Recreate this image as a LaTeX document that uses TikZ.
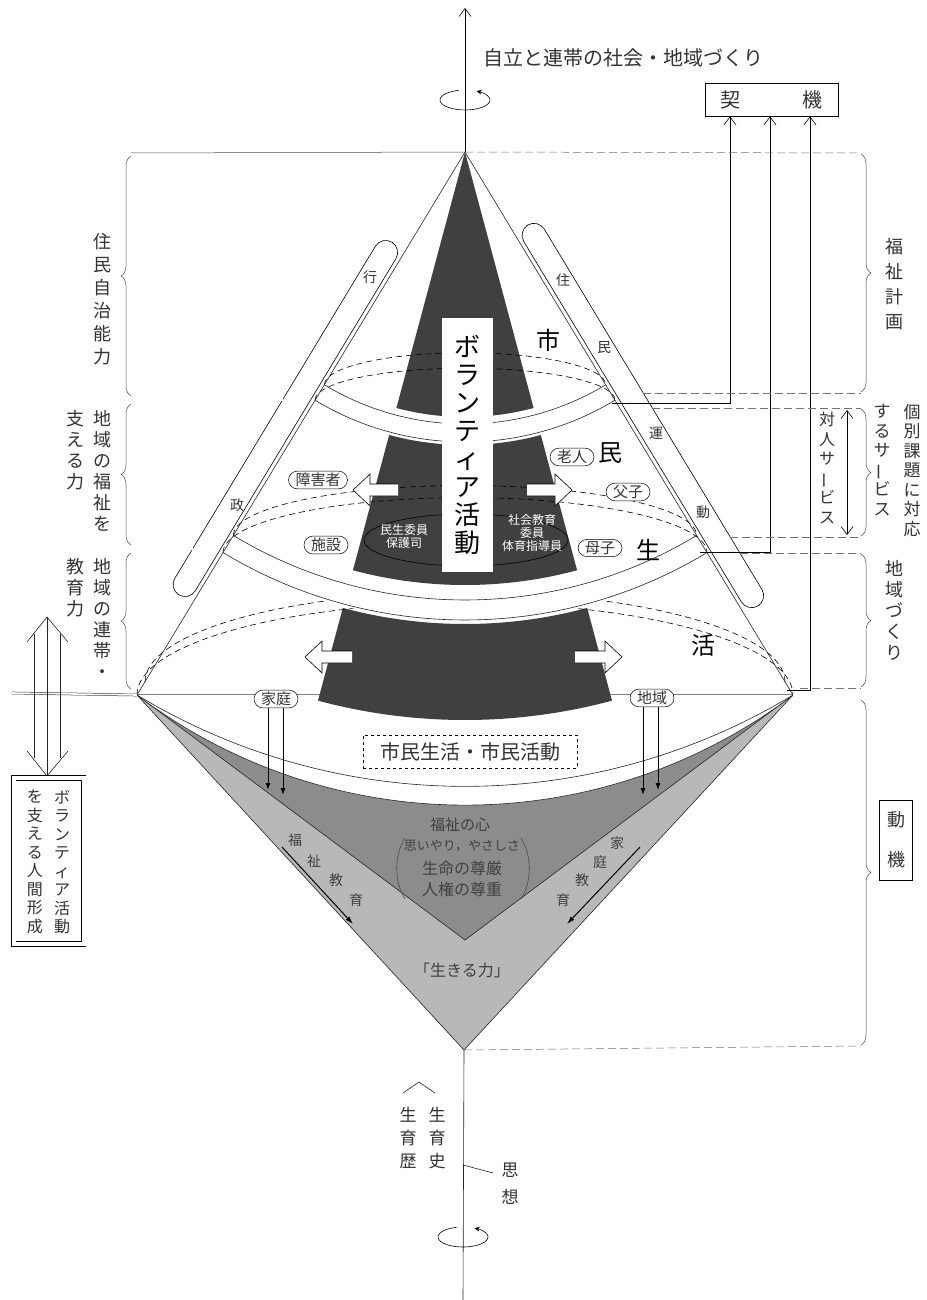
\documentclass[tikz,border=0pt]{standalone}
\usepackage{fontspec}
\usepackage{graphicx}
\setmainfont{Noto Sans CJK JP}
\usetikzlibrary{arrows.meta, decorations.pathreplacing}

\newcommand{\vbar}{\rotatebox[origin=c]{90}{ー}}

\begin{document}
\begin{tikzpicture}[x=1pt, y=-1pt,
    every node/.style={inner sep=0pt, text=black!80, font=\fontsize{17}{20}\selectfont},
    thinline/.style={line width=0.6pt, draw=black!85},
    rail/.style={double=white, double distance=1.6pt, line width=0.5pt, draw=black!80},
    hidden/.style={dash pattern=on 6pt off 4pt, line width=0.6pt},
    guide/.style={dash pattern=on 8pt off 4pt, line width=0.5pt, draw=black!55},
    wedge/.style={fill=black!75},
    hollow/.style={draw, fill=white, line width=0.6pt},
    tag/.style={draw, fill=white, rounded corners=9pt, inner xsep=7pt, inner ysep=2pt, line width=0.5pt, font=\fontsize{15}{15}\selectfont},
    vtxt/.style={align=center, anchor=north, font=\fontsize{18}{23}\selectfont},
    bracel/.style={decorate, decoration={brace, amplitude=10pt}, line width=0.5pt, draw=black!70},
    uparrow/.style={-{Straight Barb[length=8pt, width=12pt]}, line width=0.6pt},
    downarrow/.style={-{Latex[length=7pt, width=5pt]}, line width=1pt},
    big/.style={font=\fontsize{24}{24}\selectfont, text=black},
    small/.style={font=\fontsize{14}{14}\selectfont}
]
\fill[white] (0,0) rectangle (926,1300);
\useasboundingbox (0,0) rectangle (926,1300);

% key points
\coordinate (apex) at (465,152);
\coordinate (lc) at (137,695);
\coordinate (rc) at (793,695);
\coordinate (vtip) at (464,1050);
\coordinate (vmid) at (465,940);

% inverted triangle
\filldraw[fill=black!28, thinline] (lc) -- (vtip) -- (rc) -- cycle;
\filldraw[fill=black!45, thinline] (lc) -- (vmid) -- (rc) -- cycle;
\fill[white] (lc) arc[start angle=127.1, end angle=52.9, radius=544] -- cycle;
\draw[thinline] (lc) arc[start angle=127.1, end angle=52.9, radius=544];

% dark wedge
\begin{scope}[shift={(apex)}]
    \fill[wedge] (0,0) -- (105:265) arc[start angle=105, end angle=75, radius=265] -- cycle;
    \fill[wedge] (105:293) arc[start angle=105, end angle=75, radius=293] -- (75:433) arc[start angle=75, end angle=105, radius=433] -- cycle;
    \fill[wedge] (105:472) arc[start angle=105, end angle=75, radius=472] -- (75:568) arc[start angle=75, end angle=105, radius=568] -- cycle;
\end{scope}

% hidden back rims
\draw[hidden] (324.4,384.8) arc[start angle=180, end angle=360, x radius=140.6, y radius=32];
\draw[hidden] (315,400.2) arc[start angle=180, end angle=360, x radius=150, y radius=32];
\draw[hidden] (233.4,535.5) arc[start angle=180, end angle=360, x radius=231.6, y radius=50];
\draw[hidden] (223,552.6) arc[start angle=180, end angle=360, x radius=242, y radius=55];
\begin{scope}[even odd rule]
    \clip (0,0) rectangle (926,1300) (apex) circle[radius=470];
    \draw[hidden] (145,682) arc[start angle=180, end angle=360, x radius=320, y radius=90];
    \draw[hidden] (lc) arc[start angle=180, end angle=360, x radius=328, y radius=92];
\end{scope}

% front rims
\begin{scope}[shift={(apex)}]
    \foreach \r in {272, 290, 448, 468, 634.4}
        \draw[thinline] (121.13:\r) arc[start angle=121.13, end angle=58.87, radius=\r];
\end{scope}

% committee ring and centre column
\draw[line width=0.6pt] (466,540) ellipse[x radius=102, y radius=26];
\node[fill=white, anchor=north, minimum width=51pt, minimum height=254pt, align=center,
      font=\fontsize{26}{28}\selectfont, text=black] (volbox) at (467,318)
      {ボ\\ラ\\ン\\テ\\ィ\\ア\\活\\動};
\node[text=white, align=center, font=\fontsize{12}{13}\selectfont] (minsei) at (404,536) {民生委員\\保護司};
\node[text=white, align=center, font=\fontsize{12}{13}\selectfont] (shakai) at (532,533) {社会教育\\委員\\体育指導員};

% hollow arrows
\draw[hollow] (398,484) -- (370,484) -- (370,474) -- (353,490) -- (370,506) -- (370,496) -- (398,496);
\draw[hollow] (527,484) -- (555,484) -- (555,474) -- (572,490) -- (555,506) -- (555,496) -- (527,496);
\draw[hollow] (352,651) -- (322,651) -- (322,641) -- (305,657) -- (322,673) -- (322,663) -- (352,663);
\draw[hollow] (575,651) -- (605,651) -- (605,641) -- (622,657) -- (605,673) -- (605,663) -- (575,663);

% cone
\draw[thinline] (lc) -- (apex) -- (rc);

% side rails (administration / citizens' movement)
\begin{scope}[shift={(apex)}, rotate=-31.13]
    \draw[fill=white, line width=0.6pt, rounded corners=12pt] (-28,115) rectangle (-4,527);
\end{scope}
\begin{scope}[shift={(apex)}, rotate=31.13]
    \draw[fill=white, line width=0.6pt, rounded corners=12pt] (4,95) rectangle (28,540);
\end{scope}
\node[small] (gyo) at (370,277) {行};
\node[small] (sei) at (237,505) {政};
\node[small] (ju) at (563,280) {住};
\node[small] (min) at (604,348) {民};
\node[small] (un) at (656,433) {運};
\node[small] (do) at (703,512) {動};

% big characters
\node[big] (shi) at (548,340) {市};
\node[big] (min2) at (610,453) {民};
\node[big] (sei2) at (648,550) {生};
\node[big] (katsu) at (703,645) {活};

% tags
\node[tag] (shogai) at (318,480) {障害者};
\node[tag] (shisetsu) at (326,545) {施設};
\node[tag] (rojin) at (572,457) {老人};
\node[tag] (fushi) at (628,492) {父子};
\node[tag] (boshi) at (600,548) {母子};
\node[tag] (katei) at (276,699) {家庭};
\node[tag] (chiiki) at (652,698) {地域};

\coordinate (kA) at (268,790);
\coordinate (kB) at (283,795);
\coordinate (cA) at (643,795);
\coordinate (cB) at (658,790);
\draw[downarrow] (katei.south -| kA) -- (kA);
\draw[downarrow] (katei.south -| kB) -- (kB);
\draw[downarrow] (chiiki.south -| cA) -- (cA);
\draw[downarrow] (chiiki.south -| cB) -- (cB);

\node[draw, dashed, line width=0.6pt, minimum width=214pt, minimum height=33pt,
      font=\fontsize{20}{20}\selectfont] (shimin) at (470,751.5) {市民生活・市民活動};

% heart of welfare
\node[font=\fontsize{15}{15}\selectfont, text=black!75] (kokoro) at (460,825) {福祉の心};
\node[font=\fontsize{13}{13}\selectfont, text=black!75] (omoi) at (462,846) {思いやり，やさしさ};
\node[font=\fontsize{16}{16}\selectfont, text=black!75] (songen) at (462,868) {生命の尊厳};
\node[font=\fontsize{16}{16}\selectfont, text=black!75] (jinken) at (462,889) {人権の尊重};
\draw[line width=0.6pt, black!70] (405,838) .. controls (394,855) and (394,882) .. (405,899);
\draw[line width=0.6pt, black!70] (521,838) .. controls (532,855) and (532,882) .. (521,899);

\node[small, text=black!75] (fk1) at (295,840) {福};
\node[small, text=black!75] (fk2) at (314,861) {祉};
\node[small, text=black!75] (fk3) at (336,880) {教};
\node[small, text=black!75] (fk4) at (356,900) {育};
\node[small, text=black!75] (kk1) at (617,843) {家};
\node[small, text=black!75] (kk2) at (600,862) {庭};
\node[small, text=black!75] (kk3) at (582,880) {教};
\node[small, text=black!75] (kk4) at (563,900) {育};
\draw[-{Latex[length=8pt, width=5pt]}, line width=1pt] (282,847) -- (353,924);
\draw[-{Latex[length=8pt, width=5pt]}, line width=1pt] (640,847) -- (567,924);

\node[font=\fontsize{16}{16}\selectfont, text=black!75] (ikiru) at (462,970) {「生きる力」};

% axis
\draw[uparrow] (apex) -- (465,8);
\draw[thinline] (vtip) -- (463,1300);
\draw[-{Stealth[length=5pt, width=5pt]}, line width=0.6pt] (465,100) ++(255:25 and 10) arc[start angle=255, end angle=-62, x radius=25, y radius=10];
\draw[-{Stealth[length=5pt, width=5pt]}, line width=0.6pt] (463,1237) ++(255:25 and 10) arc[start angle=255, end angle=-62, x radius=25, y radius=10];
\node[font=\fontsize{20}{20}\selectfont, anchor=west] (goal) at (483,58) {自立と連帯の社会・地域づくり};

% motives box
\node[draw, line width=0.7pt, minimum width=133pt, minimum height=33pt,
      font=\fontsize{20}{20}\selectfont] (keiki) at (771.5,99.5) {契\hspace{62pt}機};
\coordinate (b1) at (612,403);
\coordinate (b2) at (700,552);
\coordinate (b3) at (787,690);
\draw[uparrow] (b1) -| ([xshift=-41.5pt]keiki.south);
\draw[uparrow] (b2) -| ([xshift=-1.5pt]keiki.south);
\draw[uparrow] (b3) -| ([xshift=38.5pt]keiki.south);

% left guides
\draw[line width=0.5pt, black!70] (131,153) -- (apex);
\draw[rail] (131,400) -- (283,400);
\draw[rail] (131,549) -- (193,549);
\draw[rail] (12,693) -- (lc);
\draw[bracel] (131,396) -- (131,156);
\draw[bracel] (131,545) -- (131,404);
\draw[bracel] (131,689) -- (131,553);
\node[vtxt] (jichi) at (102,233) {住\\民\\自\\治\\能\\力};
\node[vtxt, font=\fontsize{18}{21}\selectfont] (fukushi) at (102,410) {地\\域\\の\\福\\祉\\を};
\node[vtxt, font=\fontsize{18}{21}\selectfont] (sasaeru) at (75,410) {支\\え\\る\\力};
\node[vtxt, font=\fontsize{18}{21}\selectfont] (rentai) at (102,558) {地\\域\\の\\連\\帯\\・};
\node[vtxt, font=\fontsize{18}{21}\selectfont] (kyoiku) at (75,558) {教\\育\\力};

% right guides
\draw[guide] (apex) -- (861,153);
\draw[guide] (643,393) -- (861,393);
\draw[guide] (652,408) -- (861,408);
\draw[guide] (730,537) -- (861,537);
\draw[guide] (740,553) -- (861,553);
\draw[guide] (800,688) -- (861,688);
\draw[guide] (vtip) -- (861,1046);
\draw[rail] (rc) -- (915,695);
\draw[bracel] (861,154) -- (861,392);
\draw[bracel] (861,409) -- (861,536);
\draw[bracel] (861,554) -- (861,687);
\draw[bracel] (861,700) -- (861,1045);
\node[vtxt, font=\fontsize{18}{25}\selectfont] (keikaku) at (894,238) {福\\祉\\計\\画};
\node[vtxt, font=\fontsize{17}{19.5}\selectfont] (kobetsu) at (912,404) {個\\別\\課\\題\\に\\対\\応};
\node[vtxt, font=\fontsize{17}{19.5}\selectfont] (service) at (882,404) {す\\る\\サ\\\vbar\\ビ\\ス};
\node[vtxt, font=\fontsize{18}{21}\selectfont] (machi) at (894,560) {地\\域\\づ\\く\\り};
\node[vtxt, font=\fontsize{16}{19.5}\selectfont] (taijin) at (827,412) {対\\人\\サ\\\vbar\\ビ\\ス};
\draw[{Straight Barb[length=8pt, width=12pt]}-{Straight Barb[length=8pt, width=12pt]}, line width=0.6pt] (847,410) -- (847,535);
\node[draw, line width=0.7pt, minimum width=33pt, minimum height=80pt, align=center,
      font=\fontsize{18}{40}\selectfont] (doki) at (896,840) {動\\機};

% human formation box
\draw[thinline] (27,642) -- (47,617) -- (68,642);
\draw[thinline] (34,634) -- (34,758);
\draw[thinline] (60,634) -- (60,758);
\draw[thinline] (47,617) -- (47,776);
\draw[thinline] (27,751) -- (47,776) -- (68,751);
\node[draw, double, double distance=4pt, line width=0.6pt, minimum width=70pt, minimum height=166pt] (human) at (48.5,861) {};
\node[vtxt, font=\fontsize{16}{18.5}\selectfont] (vol2) at (62,790) {ボ\\ラ\\ン\\テ\\ィ\\ア\\活\\動};
\node[vtxt, font=\fontsize{16}{18.5}\selectfont] (form) at (35,790) {を\\支\\え\\る\\人\\間\\形\\成};

% life history
\draw[thinline] (403,1093) -- (419,1082) -- (435,1093);
\node[vtxt, font=\fontsize{17}{23}\selectfont] (seiikushi) at (437,1107) {生\\育\\史};
\node[vtxt, font=\fontsize{17}{23}\selectfont] (seiikureki) at (408,1107) {生\\育\\歴};
\node[vtxt, font=\fontsize{17}{27}\selectfont] (shiso) at (510,1163) {思\\想};
\draw[thinline] (463,1165) -- ([xshift=-8pt, yshift=-10pt]shiso.north west);

\end{tikzpicture}
\end{document}
